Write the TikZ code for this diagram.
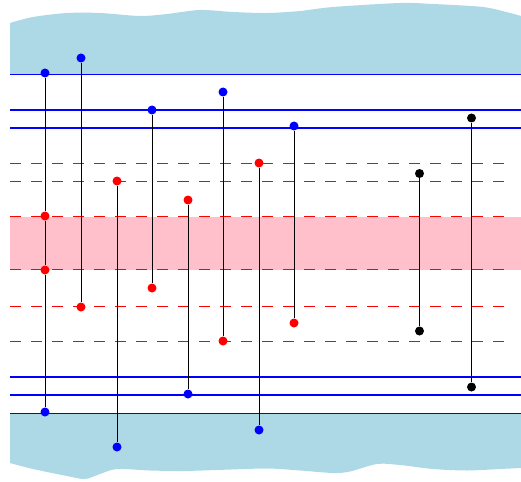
\documentclass[tikz,border=0pt]{standalone}
\usetikzlibrary{calc}
\definecolor{sea}{HTML}{ADD8E6}
\definecolor{band}{HTML}{FFC0CB}
\tikzset{
	waterline/.style={draw=blue, line width=1.2pt},
	cutline/.style={draw=red, line width=1pt, dash pattern=on 10.5pt off 10.5pt},
	stem/.style={draw=black, line width=0.9pt},
	dot/.style={circle, inner sep=0pt, minimum size=9pt, fill=#1},
}

\begin{document}
\begin{tikzpicture}[x=1pt, y=-1pt]
		%%%%% START %%%%%
		\useasboundingbox (0, 0) rectangle (521, 481);
		
		\fill[sea] (10, 74) -- plot[smooth] coordinates {(10, 23) (33, 17) (67, 13) (100, 13) (140, 16) (167, 14) (200, 10) (233, 12) (267, 13) (300, 11) (333, 7) (400, 3) (433, 4) (483, 7) (510, 13) (521, 16)} -- (521, 74) -- cycle;
		\fill[sea] (10, 413) -- plot[smooth] coordinates {(10, 463) (33, 469) (67, 476) (85, 479) (100, 474) (117, 469) (150, 470.5) (183, 471) (217, 470) (267, 468.5) (300, 470.5) (333, 473) (350, 471.5) (377, 464) (400, 465) (433, 469) (467, 470.5) (500, 469) (521, 468)} -- (521, 413) -- cycle;
		
		\fill[band] (10, 216.5) rectangle (521, 269.5);
		
		\draw[waterline] (10, 74.5) -- (521, 74.5);
		\draw[waterline] (10, 110) -- (521, 110);
		\draw[waterline] (10, 128) -- (521, 128);
		\draw[waterline] (10, 377) -- (521, 377);
		\draw[waterline] (10, 395) -- (521, 395);
		\draw[waterline] (10, 413.5) -- (521, 413.5);
		
		\draw[cutline] (10, 163) -- (512, 163);
		\draw[cutline] (10, 181) -- (512, 181);
		\draw[cutline] (10, 216.5) -- (512, 216.5);
		\draw[cutline] (10, 269.5) -- (512, 269.5);
		\draw[cutline] (10, 306) -- (512, 306);
		\draw[cutline] (10, 341) -- (512, 341);
		
		% dots
		\node[dot=blue] (s1a) at (45, 73) {};
		\node[dot=red] (s1b) at (45, 216) {};
		\node[dot=red] (s1c) at (45, 270) {};
		\node[dot=blue] (s1d) at (45, 412) {};
		
		\node[dot=blue] (s2a) at (81, 58) {};
		\node[dot=red] (s2b) at (81, 307) {};
		
		\node[dot=red] (s3a) at (117, 181) {};
		\node[dot=blue] (s3b) at (117, 447) {};
		
		\node[dot=blue] (s4a) at (152, 110) {};
		\node[dot=red] (s4b) at (152, 288) {};
		
		\node[dot=red] (s5a) at (188, 200) {};
		\node[dot=blue] (s5b) at (188, 394) {};
		
		\node[dot=blue] (s6a) at (223, 92) {};
		\node[dot=red] (s6b) at (223, 341) {};
		
		\node[dot=red] (s7a) at (259, 163) {};
		\node[dot=blue] (s7b) at (259, 430) {};
		
		\node[dot=blue] (s8a) at (294, 126) {};
		\node[dot=red] (s8b) at (294, 323) {};
		
		\node[dot=black] (s9a) at (419.5, 173.5) {};
		\node[dot=black] (s9b) at (419.5, 331) {};
		
		\node[dot=black] (s10a) at (471.5, 118) {};
		\node[dot=black] (s10b) at (471.5, 387) {};
		
		% stems
		\draw[stem] (s1a) -- (s1b) -- (s1c) -- (s1d);
		\draw[stem] (s2a) -- (s2b);
		\draw[stem] (s3a) -- (s3b);
		\draw[stem] (s4a) -- (s4b);
		\draw[stem] (s5a) -- (s5b);
		\draw[stem] (s6a) -- (s6b);
		\draw[stem] (s7a) -- (s7b);
		\draw[stem] (s8a) -- (s8b);
		\draw[stem] (s9a) -- (s9b);
		\draw[stem] (s10a) -- (s10b);
		
		%%%%% END %%%%%
	\end{tikzpicture}
\end{document}
